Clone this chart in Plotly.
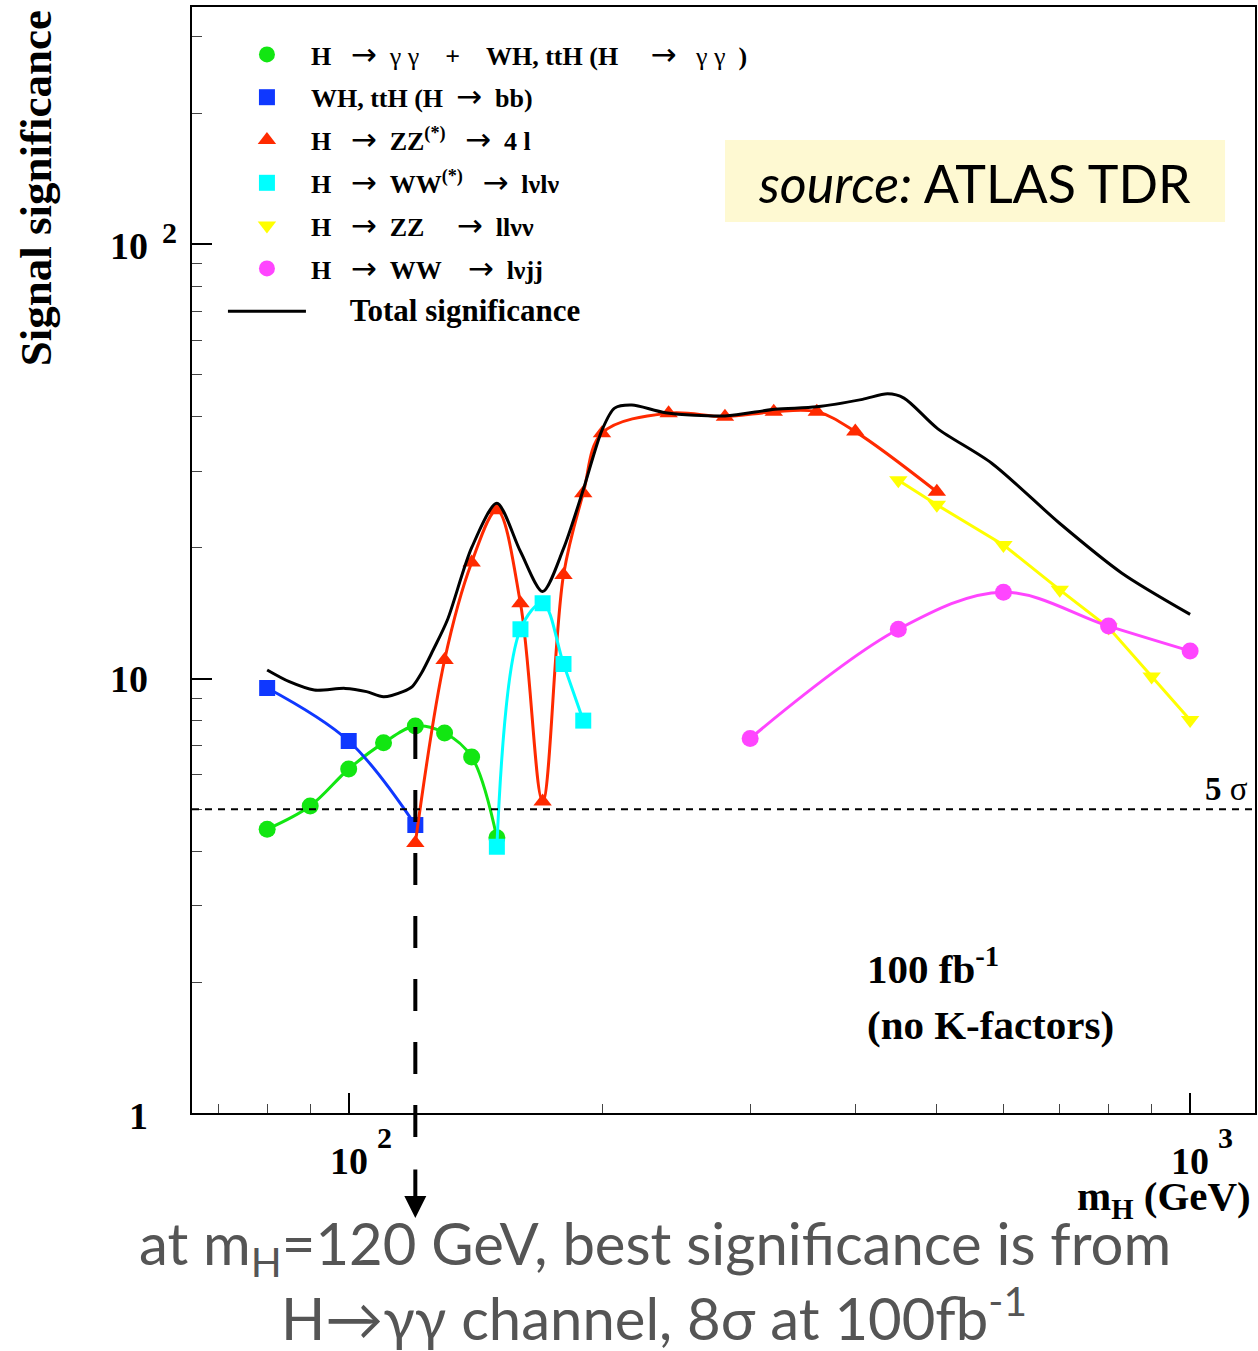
import math
import plotly.graph_objects as go

# ---------------- data ----------------
m_gg = [80, 90, 100, 110, 120, 130, 140, 150]
s_gg = [4.50, 5.09, 6.19, 7.11, 7.77, 7.49, 6.60, 4.30]

m_bb = [80, 100, 120]
s_bb = [9.51, 7.18, 4.60]

m_zz4l = [120, 130, 140, 150, 160, 170, 180, 190, 200, 240, 280, 320, 360, 400, 500]
s_zz4l = [4.18, 11.03, 18.5, 24.4, 14.9, 5.21, 17.3, 26.7, 36.7, 40.8, 40.05, 41.1, 41.1, 37.0, 26.9]

m_wwlvlv = [150, 160, 170, 180, 190]
s_wwlvlv = [4.10, 12.98, 14.9, 10.8, 8.0]

m_zzllvv = [450, 500, 600, 700, 800, 900, 1000]
s_zzllvv = [28.6, 25.1, 20.3, 16.0, 13.1, 10.1, 8.03]

m_wwlvjj = [300, 450, 600, 800, 1000]
s_wwlvjj = [7.28, 12.98, 15.8, 13.2, 11.57]

m_total = [80, 85, 91, 99, 105, 110, 116, 119, 122, 126, 131, 140, 150, 160, 170, 180,
           190, 200, 207, 217, 238, 280, 321, 360, 408, 437, 457, 501, 581, 699, 829, 1000]
s_total = [10.46, 9.83, 9.41, 9.49, 9.33, 9.08, 9.33, 9.58, 10.28, 11.63, 13.63, 20.0, 25.3,
           19.6, 15.85, 19.9, 27.2, 37.3, 41.9, 42.6, 40.9, 40.2, 41.65, 42.2, 43.9, 45.2,
           44.2, 37.6, 31.3, 22.8, 17.5, 14.05]

discovery_level = 5
m_best = 120
x_major = [100, 1000]
x_major_exp = ["2", "3"]
x_minor = [70, 80, 90, 200, 300, 400, 500, 600, 700, 800, 900]
y_major = [1, 10, 100]
y_minor = [2, 3, 4, 5, 6, 7, 8, 9, 20, 30, 40, 50, 60, 70, 80, 90, 200, 300]

ARW = "<span style='font-family:DejaVu Sans;font-weight:normal;font-size:31px'>→</span>"
GAM = "<span style='font-weight:normal'>γ\u00a0γ</span>"
NB = "\u00a0"
legend_names = [
    "H" + NB * 3 + ARW + NB * 2 + GAM + NB * 4 + "+" + NB * 4 + "WH, ttH (H" + NB * 5 + ARW + NB * 3 + GAM + NB * 2 + ")",
    "WH, ttH (H" + NB * 2 + ARW + NB * 2 + "bb)",
    "H" + NB * 3 + ARW + NB * 2 + "ZZ<sup>(*)</sup>" + NB * 3 + ARW + NB * 2 + "4" + NB + "l",
    "H" + NB * 3 + ARW + NB * 2 + "WW<sup>(*)</sup>" + NB * 3 + ARW + NB * 2 + "lνlν",
    "H" + NB * 3 + ARW + NB * 2 + "ZZ" + NB * 5 + ARW + NB * 2 + "llνν",
    "H" + NB * 3 + ARW + NB * 2 + "WW" + NB * 4 + ARW + NB * 2 + "lνjj",
    "<span style='font-size:31px'>" + NB * 5 + "Total significance</span>",
]

# ---------------- styling ----------------
GREEN = "#12E612"
BLUE = "#0F38FF"
RED = "#FF2A00"
CYAN = "#00FFFF"
YELLOW = "#FFFF00"
MAGENTA = "#FF45FF"
SERIF = "Liberation Serif, Times New Roman, serif"
SANS = "Lato, Noto Sans, sans-serif"

W, H = 1258, 1351
L, R, T, B = 192, 1257, 7, 1113
X_RANGE = [2 - (349 - L) / 843.0, 3 + (R - 1192) / 843.0]
Y_RANGE = [0, (B - T) / 434.5]


def px2x(px):
    return (px - L) / (R - L)


def py2y(py):
    return (B - py) / (B - T)


def val2paper_x(v):
    return (math.log10(v) - X_RANGE[0]) / (X_RANGE[1] - X_RANGE[0])


def val2paper_y(v):
    return (math.log10(v) - Y_RANGE[0]) / (Y_RANGE[1] - Y_RANGE[0])


fig = go.Figure()

series = [
    (m_gg, s_gg, GREEN, "circle", 17, "spline"),
    (m_bb, s_bb, BLUE, "square", 16, "spline"),
    (m_zz4l, s_zz4l, RED, "triangle-up", 16, "spline"),
    (m_wwlvlv, s_wwlvlv, CYAN, "square", 16, "spline"),
    (m_zzllvv, s_zzllvv, YELLOW, "triangle-down", 16, "linear"),
    (m_wwlvjj, s_wwlvjj, MAGENTA, "circle", 17, "spline"),
]
for xs, ys, col, sym, sz, shp in series:
    line = dict(color=col, width=3, shape=shp)
    if shp == "spline":
        line["smoothing"] = 1.0
    fig.add_trace(go.Scatter(x=xs, y=ys, mode="lines+markers", line=line,
                             marker=dict(symbol=sym, size=sz, color=col),
                             showlegend=False, hoverinfo="skip"))

fig.add_trace(go.Scatter(x=m_total, y=s_total, mode="lines",
                         line=dict(color="black", width=3, shape="spline", smoothing=0.8),
                         showlegend=False, hoverinfo="skip"))

# legend-only entries
for i, (xs, ys, col, sym, sz, shp) in enumerate(series):
    fig.add_trace(go.Scatter(x=[None], y=[None], mode="markers",
                             marker=dict(symbol=sym, size=16, color=col),
                             name="<b>" + legend_names[i] + "</b>", legendgroup="g" + str(i)))
fig.add_trace(go.Scatter(x=[None], y=[None], mode="lines",
                         line=dict(color="black", width=3),
                         name="<b>" + legend_names[6] + "</b>", legendgroup="g6"))

xb = val2paper_x(m_best)
shapes = [
    # source box
    dict(type="rect", xref="paper", yref="paper", x0=px2x(726), x1=px2x(1227),
         y0=py2y(222), y1=py2y(140), fillcolor="#FEF9D2", line=dict(width=0), layer="below"),
    # 5 sigma line
    dict(type="line", xref="paper", yref="paper", x0=0, x1=1,
         y0=val2paper_y(discovery_level), y1=val2paper_y(discovery_level),
         line=dict(color="black", width=2, dash="7px,6px"), layer="above"),
    # vertical dashed line at m_H = 120
    dict(type="line", xref="paper", yref="paper", x0=xb, x1=xb,
         y0=py2y(1137), y1=val2paper_y(s_gg[m_gg.index(m_best)]),
         line=dict(color="black", width=4, dash="32px,31px"), layer="above"),
]

ann = []
tick_font = dict(family=SERIF, size=38, color="black")
exp_font = dict(family=SERIF, size=30, color="black")
# y tick labels
ann.append(dict(text="<b>1</b>", xref="paper", yref="y", x=px2x(150), y=0, xanchor="right",
                yanchor="middle", showarrow=False, font=tick_font, yshift=-3))
ann.append(dict(text="<b>10</b>", xref="paper", yref="y", x=px2x(150), y=1, xanchor="right",
                yanchor="middle", showarrow=False, font=tick_font))
ann.append(dict(text="<b>10</b>", xref="paper", yref="y", x=px2x(150), y=2, xanchor="right",
                yanchor="middle", showarrow=False, font=tick_font, yshift=-2))
ann.append(dict(text="<b>2</b>", xref="paper", yref="y", x=px2x(160), y=2, xanchor="left",
                yanchor="middle", showarrow=False, font=exp_font, yshift=12))
# x tick labels
for v, lab in zip(x_major, x_major_exp):
    ann.append(dict(text="<b>10</b>", xref="x", yref="paper", x=math.log10(v), y=py2y(1161),
                    xanchor="center", yanchor="middle", showarrow=False, font=tick_font))
    ann.append(dict(text="<b>" + lab + "</b>", xref="x", yref="paper", x=math.log10(v),
                    y=py2y(1137), xanchor="left", yanchor="middle", xshift=26,
                    showarrow=False, font=exp_font))
# axis titles
ann.append(dict(text="<b>Signal significance</b>", xref="paper", yref="paper", x=px2x(36),
                y=py2y(188), xanchor="center", yanchor="middle", textangle=-90, showarrow=False,
                font=dict(family=SERIF, size=45, color="black")))
ann.append(dict(text="<b>m<sub>H</sub> (GeV)</b>", xref="paper", yref="paper", x=px2x(1255),
                y=py2y(1199), xanchor="right", yanchor="middle", showarrow=False,
                font=dict(family=SERIF, size=41, color="black")))
# 5 sigma label
ann.append(dict(text="<b>5</b> σ", xref="paper", yref="y", x=px2x(1252),
                y=math.log10(discovery_level), xanchor="right", yanchor="bottom", yshift=0,
                showarrow=False, font=dict(family=SERIF, size=33, color="black")))
# luminosity text
ann.append(dict(text="<b>100 fb<sup>-1</sup></b>", xref="paper", yref="paper", x=px2x(866),
                y=py2y(966), xanchor="left", yanchor="middle", showarrow=False,
                font=dict(family=SERIF, size=41, color="black")))
ann.append(dict(text="<b>(no K-factors)</b>", xref="paper", yref="paper", x=px2x(866),
                y=py2y(1025), xanchor="left", yanchor="middle", showarrow=False,
                font=dict(family=SERIF, size=41, color="black")))
# source box text
ann.append(dict(text="<i>source:</i> ATLAS TDR", xref="paper", yref="paper", x=px2x(976),
                y=py2y(183), xanchor="center", yanchor="middle", showarrow=False,
                font=dict(family=SANS, size=52, color="black")))
# arrow below the axis
ann.append(dict(text="", xref="x", yref="paper", x=math.log10(m_best), y=py2y(1218),
                ax=0, ay=-50, showarrow=True, arrowhead=2, arrowsize=1.1, arrowwidth=4,
                arrowcolor="black"))
# bottom caption
ann.append(dict(text="at m<sub>H</sub>=120 GeV, best significance is from", xref="paper",
                yref="paper", x=px2x(656), y=py2y(1247), xanchor="center", yanchor="middle",
                showarrow=False, font=dict(family=SANS, size=58, color="#555555")))
ann.append(dict(text="H→γγ channel, 8σ at 100fb<sup>-1</sup>", xref="paper",
                yref="paper", x=px2x(655), y=py2y(1314), xanchor="center", yanchor="middle",
                showarrow=False, font=dict(family=SANS, size=58, color="#555555")))

fig.update_layout(
    width=W, height=H,
    margin=dict(l=L, r=W - R, t=T, b=H - B, pad=0),
    paper_bgcolor="white", plot_bgcolor="white",
    shapes=shapes, annotations=ann,
    showlegend=True,
    legend=dict(x=px2x(223), y=py2y(31), xanchor="left", yanchor="top",
                bgcolor="rgba(0,0,0,0)", borderwidth=0,
                font=dict(family=SERIF, size=26, color="black"),
                itemwidth=78, tracegroupgap=6, traceorder="grouped"),
    xaxis=dict(type="log", range=X_RANGE, showline=True, linewidth=2, linecolor="black",
               mirror=True, ticks="inside", ticklen=20, tickwidth=1.5, tickcolor="black",
               tickmode="array", tickvals=x_major, showticklabels=False, showgrid=False,
               zeroline=False,
               minor=dict(ticks="inside", ticklen=9, tickwidth=1, tickcolor="#444444",
                          tickmode="array", tickvals=x_minor, showgrid=False)),
    yaxis=dict(type="log", range=Y_RANGE, showline=True, linewidth=2, linecolor="black",
               mirror=True, ticks="inside", ticklen=20, tickwidth=1.5, tickcolor="black",
               tickmode="array", tickvals=y_major, showticklabels=False, showgrid=False,
               zeroline=False,
               minor=dict(ticks="inside", ticklen=10, tickwidth=1, tickcolor="#444444",
                          tickmode="array", tickvals=y_minor, showgrid=False)),
)

fig.write_html("out.html")
